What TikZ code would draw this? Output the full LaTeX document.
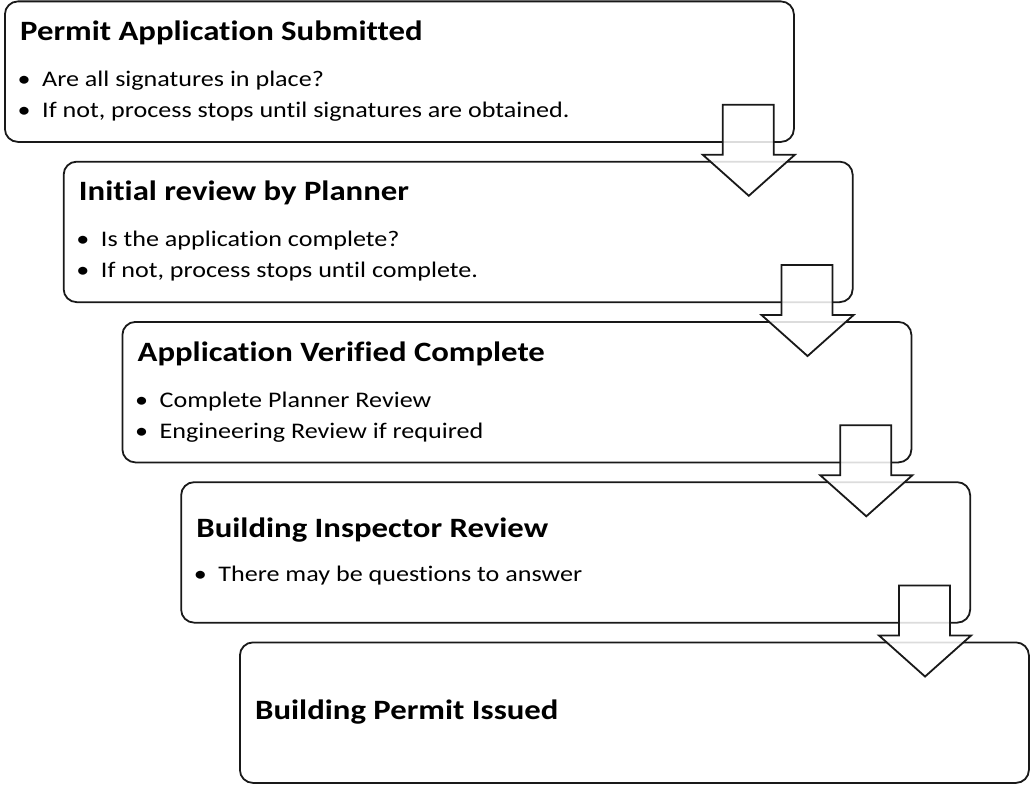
\documentclass[tikz,border=0pt]{standalone}
\usepackage{fontspec}
\setmainfont[FakeStretch=1.17,Ligatures=NoCommon]{Carlito}
\usetikzlibrary{calc}
\tikzset{
  stagebox/.style={draw=black!90, line width=1.8pt, rounded corners=13pt, fill=white,
    minimum width=789pt, minimum height=140.5pt, inner sep=0pt, anchor=north west},
  blockarrow/.style={draw=black!90, line width=1.8pt, fill=white, fill opacity=0.85, line join=miter},
  ttl/.style={anchor=base west, inner sep=0pt, font=\fontsize{28}{30}\selectfont\bfseries},
  blt/.style={anchor=base west, inner sep=0pt, font=\fontsize{22.3}{24}\selectfont},
  dot/.style={anchor=base, inner sep=0pt, font=\fontsize{22.3}{24}\selectfont}
}
\begin{document}
\begin{tikzpicture}[x=1pt,y=-1pt]
\useasboundingbox (0,0) rectangle (1035,800);
% boxes
\node[stagebox] (b1) at (4,0.5) {};
\node[stagebox] (b2) at (62.75,160.75) {};
\node[stagebox] (b3) at (121.5,321) {};
\node[stagebox] (b4) at (180.25,481.25) {};
\node[stagebox] (b5) at (239,641.5) {};
% box 1
\node[ttl] (t1) at ($(b1.north west)+(16,40)$) {Permit Application Submitted};
\node[dot] (d11) at ($(b1.north west)+(20,86)$) {\textbullet};
\node[blt] (s11) at ($(b1.north west)+(38,86)$) {Are all signatures in place?};
\node[dot] (d12) at ($(b1.north west)+(20,117)$) {\textbullet};
\node[blt] (s12) at ($(b1.north west)+(38,117)$) {If not, process stops until signatures are obtained.};
% box 2
\node[ttl] (t2) at ($(b2.north west)+(16,40)$) {Initial review by Planner};
\node[dot] (d21) at ($(b2.north west)+(20,86)$) {\textbullet};
\node[blt] (s21) at ($(b2.north west)+(38,86)$) {Is the application complete?};
\node[dot] (d22) at ($(b2.north west)+(20,117)$) {\textbullet};
\node[blt] (s22) at ($(b2.north west)+(38,117)$) {If not, process stops until complete.};
% box 3
\node[ttl] (t3) at ($(b3.north west)+(16,40)$) {Application Verified Complete};
\node[dot] (d31) at ($(b3.north west)+(20,86)$) {\textbullet};
\node[blt] (s31) at ($(b3.north west)+(38,86)$) {Complete Planner Review};
\node[dot] (d32) at ($(b3.north west)+(20,117)$) {\textbullet};
\node[blt] (s32) at ($(b3.north west)+(38,117)$) {Engineering Review if required};
% box 4
\node[ttl] (t4) at ($(b4.north west)+(16,56)$) {Building Inspector Review};
\node[dot] (d41) at ($(b4.north west)+(20,100.5)$) {\textbullet};
\node[blt] (s41) at ($(b4.north west)+(38,100.5)$) {There may be questions to answer};
% box 5
\node[ttl] (t5) at ($(b5.north west)+(16,77.5)$) {Building Permit Issued};
% arrows
\foreach \b in {b1,b2,b3,b4}{
  \begin{scope}[shift={(\b.south east)}]
    \draw[blockarrow] (-72,-38) -- (-21,-38) -- (-21,12) -- (0,12) -- (-46,53)
      -- (-92,12) -- (-72,12) -- cycle;
  \end{scope}
}
\end{tikzpicture}
\end{document}
